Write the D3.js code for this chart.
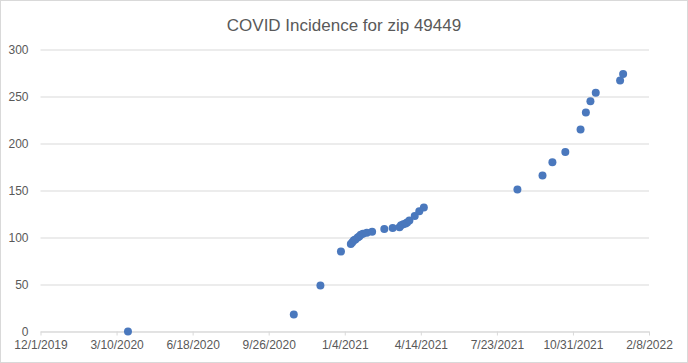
<!DOCTYPE html>
<html>
<head>
<meta charset="utf-8">
<script src="https://cdn.jsdelivr.net/npm/d3@7"></script>
<style>
  body { margin: 0; background: #fff; }
  text { font-family: "Liberation Sans", Arial, sans-serif; fill: #595959; }
</style>
</head>
<body>
<div id="chart"></div>
<script>
// reported dates and cumulative cases
var dates = [
  "2020-03-25", "2020-10-29", "2020-12-03", "2020-12-30",
  "2021-01-12", "2021-01-14", "2021-01-16", "2021-01-18", "2021-01-21",
  "2021-01-23", "2021-01-25", "2021-01-28", "2021-02-02", "2021-02-09",
  "2021-02-25", "2021-03-08", "2021-03-17", "2021-03-19", "2021-03-22",
  "2021-03-25", "2021-03-27", "2021-03-30", "2021-04-06", "2021-04-12",
  "2021-04-18", "2021-08-19", "2021-09-21", "2021-10-04", "2021-10-21",
  "2021-11-10", "2021-11-17", "2021-11-23", "2021-11-30", "2022-01-01",
  "2022-01-05"
];
var cases = [
  0, 18, 49, 85,
  93, 95, 97, 98, 100,
  101, 103, 104, 105, 106,
  109, 110, 111, 113, 114,
  115, 116, 118, 123, 128,
  132, 151, 166, 180, 191,
  215, 233, 245, 254, 267,
  274
];
var xTicks = ["2019-12-01", "2020-03-10", "2020-06-18", "2020-09-26", "2021-01-04",
  "2021-04-14", "2021-07-23", "2021-10-31", "2022-02-08"];
var yTicks = [0, 50, 100, 150, 200, 250, 300];

var parse = d3.timeParse("%Y-%m-%d");
var fmt = d3.timeFormat("%-m/%-d/%Y");
var data = dates.map(function (d, i) { return {date: parse(d), value: cases[i]}; });

var width = 688, height = 363;
var margin = {top: 49.5, right: 39, bottom: 31.5, left: 40.5};
var w = width - margin.left - margin.right;
var h = height - margin.top - margin.bottom;

var svg = d3.select("#chart").append("svg")
  .attr("width", width)
  .attr("height", height);

svg.append("rect")
  .attr("x", 0.5).attr("y", 0.5)
  .attr("width", width - 1).attr("height", height - 1)
  .attr("fill", "#fff").attr("stroke", "#d9d9d9");

svg.append("text")
  .attr("x", width / 2).attr("y", 31)
  .attr("text-anchor", "middle")
  .style("font-size", "17px")
  .text("COVID Incidence for zip 49449");

var xScale = d3.scaleTime()
  .domain([parse(xTicks[0]), parse(xTicks[xTicks.length - 1])])
  .range([0, w]);
var yScale = d3.scaleLinear().domain([0, 300]).range([h, 0]);

var g = svg.append("g")
  .attr("transform", "translate(" + margin.left + "," + margin.top + ")");

// gridlines
var grid = g.append("g")
  .call(d3.axisLeft(yScale).tickValues(yTicks).tickSize(-w).tickFormat(""));
grid.select(".domain").remove();
grid.selectAll(".tick line").attr("stroke", "#d9d9d9");

// y labels
var yAxis = g.append("g")
  .call(d3.axisLeft(yScale).tickValues(yTicks).tickSize(0).tickPadding(12));
yAxis.select(".domain").remove();
yAxis.selectAll("text").style("font-size", "12px").attr("fill", "#595959");

// x axis
var xAxis = g.append("g")
  .attr("transform", "translate(0," + h + ")")
  .call(d3.axisBottom(xScale)
    .tickValues(xTicks.map(parse))
    .tickFormat(fmt)
    .tickSize(4)
    .tickSizeOuter(0)
    .tickPadding(5));
xAxis.select(".domain").attr("stroke", "#d9d9d9");
xAxis.selectAll(".tick line").attr("stroke", "#d9d9d9");
xAxis.selectAll("text").style("font-size", "12px").attr("fill", "#595959");

// points
g.selectAll(".dot").data(data)
  .enter()
  .append("circle")
  .attr("class", "dot")
  .attr("cx", function (d) { return xScale(d.date); })
  .attr("cy", function (d) { return yScale(d.value); })
  .attr("r", 4)
  .attr("fill", "#4a78bd");
</script>
</body>
</html>
